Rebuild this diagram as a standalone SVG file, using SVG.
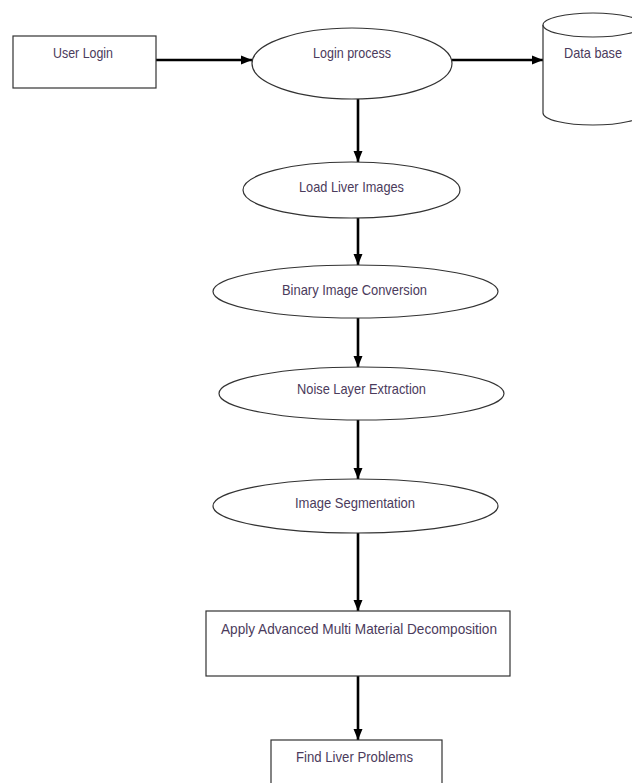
<svg xmlns="http://www.w3.org/2000/svg" width="632" height="783" viewBox="0 0 632 783">
<defs>
<marker id="ah" markerUnits="userSpaceOnUse" markerWidth="12" markerHeight="12" viewBox="0 0 12 12" refX="11" refY="6" orient="auto">
<path d="M0,1.5 L11,6 L0,10.5 Z" fill="#000"/>
</marker>
<style>
.n{fill:#fff;stroke:#333;stroke-width:1.2}
.t{font-family:"Liberation Sans",Arial,sans-serif;font-size:15px;fill:#4b3b5c}
.c{stroke:#000;stroke-width:2.6;fill:none;marker-end:url(#ah)}
</style>
</defs>
<rect width="632" height="783" fill="#fff"/>
<g id="connectors">
<line class="c" x1="156" y1="60" x2="252" y2="60"/>
<line class="c" x1="452" y1="60" x2="543" y2="60"/>
<line class="c" x1="358" y1="99" x2="358" y2="162"/>
<line class="c" x1="358" y1="218" x2="358" y2="265"/>
<line class="c" x1="358" y1="318" x2="358" y2="367"/>
<line class="c" x1="358" y1="420" x2="358" y2="479"/>
<line class="c" x1="358" y1="533" x2="358" y2="611"/>
<line class="c" x1="358" y1="676" x2="358" y2="740"/>
</g>
<g id="user-login">
<rect class="n" x="13" y="36" width="143" height="52"/>
<text class="t" x="53" y="58" textLength="60" lengthAdjust="spacingAndGlyphs">User Login</text>
</g>
<g id="login-process">
<ellipse class="n" cx="352" cy="63.5" rx="100" ry="35.5"/>
<text class="t" x="313" y="58" textLength="78" lengthAdjust="spacingAndGlyphs">Login process</text>
</g>
<g id="database">
<path class="n" d="M543,25 L543,113 A50,12 0 0 0 643,113 L643,25 A50,12 0 0 0 543,25 Z"/>
<path class="n" d="M543,25 A50,12 0 0 0 643,25" fill="none"/>
<text class="t" x="564" y="58" textLength="58" lengthAdjust="spacingAndGlyphs">Data base</text>
</g>
<g id="load-liver-images">
<ellipse class="n" cx="351.5" cy="190" rx="108.5" ry="28"/>
<text class="t" x="299" y="192" textLength="105" lengthAdjust="spacingAndGlyphs">Load Liver Images</text>
</g>
<g id="binary-image-conversion">
<ellipse class="n" cx="355.5" cy="291.5" rx="142.5" ry="26.5"/>
<text class="t" x="282" y="295" textLength="145" lengthAdjust="spacingAndGlyphs">Binary Image Conversion</text>
</g>
<g id="noise-layer-extraction">
<ellipse class="n" cx="361.5" cy="393.5" rx="142.5" ry="26.5"/>
<text class="t" x="297" y="394" textLength="129" lengthAdjust="spacingAndGlyphs">Noise Layer Extraction</text>
</g>
<g id="image-segmentation">
<ellipse class="n" cx="355.5" cy="506" rx="142.5" ry="27"/>
<text class="t" x="295" y="508" textLength="120" lengthAdjust="spacingAndGlyphs">Image Segmentation</text>
</g>
<g id="apply-ammd">
<rect class="n" x="206" y="611" width="304" height="65"/>
<text class="t" x="221" y="634" textLength="276" lengthAdjust="spacingAndGlyphs">Apply Advanced Multi Material Decomposition</text>
</g>
<g id="find-liver-problems">
<rect class="n" x="271" y="740" width="171" height="50"/>
<text class="t" x="296" y="762" textLength="117" lengthAdjust="spacingAndGlyphs">Find Liver Problems</text>
</g>
</svg>
